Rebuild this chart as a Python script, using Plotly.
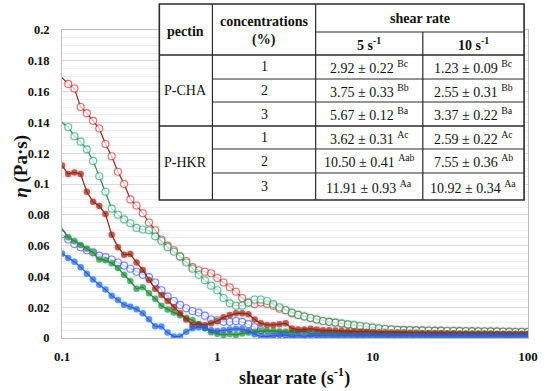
import plotly.graph_objects as go

# ---------------- data ----------------
shear_rate = [0.1, 0.1096, 0.1202, 0.1318, 0.1445, 0.1585, 0.1738, 0.1905, 0.2089, 0.2291,
              0.2512, 0.2754, 0.3020, 0.3311, 0.3631, 0.3981, 0.4365, 0.4786, 0.5248, 0.5754,
              0.6310, 0.6918, 0.7586, 0.8318, 0.9120, 1.0, 1.096, 1.202, 1.318, 1.445,
              1.585, 1.738, 1.905, 2.089, 2.291, 2.512, 2.754, 3.020, 3.311, 3.631,
              3.981, 4.365, 4.786, 5.248, 5.754, 6.310, 6.918, 7.586, 8.318, 9.120,
              10.0, 10.96, 12.02, 13.18, 14.45, 15.85, 17.38, 19.05, 20.89, 22.91,
              25.12, 27.54, 30.20, 33.11, 36.31, 39.81, 43.65, 47.86, 52.48, 57.54,
              63.10, 69.18, 75.86, 83.18, 91.20, 100.0]

brown_open = [0.169, 0.165, 0.162, 0.150, 0.146, 0.141, 0.136, 0.126, 0.118, 0.108,
              0.100, 0.090, 0.086, 0.081, 0.075, 0.070, 0.064, 0.060, 0.057, 0.053,
              0.050, 0.046, 0.044, 0.043, 0.042, 0.039, 0.036, 0.033, 0.030, 0.026,
              0.023, 0.022, 0.023, 0.022, 0.021, 0.019, 0.018, 0.016, 0.015, 0.014,
              0.013, 0.012, 0.011, 0.0105, 0.010, 0.0092, 0.0086, 0.0080, 0.0075, 0.0070,
              0.0066, 0.0062, 0.0058, 0.0056, 0.0054, 0.0053, 0.0052, 0.0051, 0.0050, 0.0049,
              0.0048, 0.0048, 0.0047, 0.0046, 0.0046, 0.0045, 0.0045, 0.0044, 0.0044, 0.0043,
              0.0043, 0.0042, 0.0042, 0.0041, 0.0041, 0.0040]

green_open = [0.140, 0.137, 0.131, 0.1275, 0.1225, 0.115, 0.105, 0.095, 0.084, 0.080,
              0.077, 0.0745, 0.0715, 0.0705, 0.070, 0.066, 0.063, 0.059, 0.056, 0.053,
              0.049, 0.045, 0.041, 0.0375, 0.034, 0.031, 0.026, 0.0225, 0.021, 0.021,
              0.023, 0.025, 0.025, 0.024, 0.022, 0.020, 0.018, 0.0165, 0.015, 0.014,
              0.013, 0.012, 0.011, 0.0105, 0.010, 0.0095, 0.009, 0.0085, 0.008, 0.0075,
              0.0068, 0.0063, 0.0058, 0.0055, 0.0053, 0.0051, 0.0050, 0.0049, 0.0048, 0.0047,
              0.0046, 0.0046, 0.0045, 0.0045, 0.0044, 0.0044, 0.0043, 0.0043, 0.0042, 0.0042,
              0.0041, 0.0041, 0.0040, 0.0040, 0.0039, 0.0039]

brown_filled = [0.112, 0.1065, 0.1075, 0.1065, 0.095, 0.0885, 0.0857, 0.0805, 0.067, 0.059,
                0.054, 0.0545, 0.049, 0.0442, 0.0377, 0.032, 0.028, 0.024, 0.020, 0.016,
                0.012, 0.0085, 0.009, 0.0085, 0.0095, 0.011, 0.0135, 0.015, 0.016, 0.016,
                0.0155, 0.012, 0.0095, 0.0085, 0.0085, 0.009, 0.0095, 0.0062, 0.0055, 0.0055,
                0.006, 0.0055, 0.005, 0.005, 0.0048, 0.0045, 0.0043, 0.0042, 0.0041, 0.0040,
                0.0039, 0.0038, 0.0037, 0.0036, 0.0035, 0.0035, 0.0034, 0.0034, 0.0033, 0.0033,
                0.0032, 0.0032, 0.0031, 0.0031, 0.0030, 0.0030, 0.0030, 0.0029, 0.0029, 0.0029,
                0.0028, 0.0028, 0.0028, 0.0028, 0.0027, 0.0027]

blue_open = [0.0673, 0.064, 0.061, 0.059, 0.057, 0.0556, 0.0535, 0.0525, 0.051, 0.049,
             0.047, 0.045, 0.043, 0.041, 0.0395, 0.036, 0.031, 0.027, 0.024, 0.0215,
             0.0193, 0.0175, 0.0165, 0.0145, 0.012, 0.0115, 0.0105, 0.0105, 0.011, 0.0105,
             0.009, 0.007, 0.005, 0.003, 0.0028, 0.003, 0.0025, 0.0022, 0.002, 0.0025,
             0.003, 0.0025, 0.0022, 0.0021, 0.0021, 0.0020, 0.0020, 0.0020, 0.0020, 0.0019,
             0.0019, 0.0019, 0.0019, 0.0019, 0.0019, 0.0019, 0.0018, 0.0018, 0.0018, 0.0018,
             0.0018, 0.0018, 0.0018, 0.0018, 0.0018, 0.0018, 0.0018, 0.0018, 0.0018, 0.0018,
             0.0018, 0.0018, 0.0018, 0.0018, 0.0018, 0.0018]

green_filled = [0.071, 0.0654, 0.063, 0.0604, 0.058, 0.0555, 0.051, 0.0505, 0.0485, 0.0455,
                0.041, 0.037, 0.032, 0.033, 0.029, 0.0255, 0.021, 0.0185, 0.0165, 0.0148,
                0.013, 0.0115, 0.009, 0.0063, 0.0038, 0.0027, 0.002, 0.0026, 0.002, 0.003,
                0.0035, 0.004, 0.0045, 0.0045, 0.0045, 0.0042, 0.004, 0.0035, 0.004, 0.0045,
                0.003, 0.003, 0.0029, 0.0029, 0.0028, 0.0028, 0.0027, 0.0027, 0.0026, 0.0026,
                0.0025, 0.0025, 0.0025, 0.0024, 0.0024, 0.0024, 0.0024, 0.0023, 0.0023, 0.0023,
                0.0023, 0.0023, 0.0022, 0.0022, 0.0022, 0.0022, 0.0022, 0.0022, 0.0022, 0.0022,
                0.0022, 0.0022, 0.0022, 0.0022, 0.0022, 0.0022]

blue_filled = [0.0548, 0.052, 0.0495, 0.046, 0.0418, 0.038, 0.0345, 0.0315, 0.0275, 0.0247,
               0.0216, 0.0203, 0.0186, 0.016, 0.0121, 0.0076, 0.0074, 0.0035, 0.0009, 0.001,
               0.0041, 0.0063, 0.007, 0.0065, 0.005, 0.0045, 0.005, 0.0055, 0.006, 0.0058,
               0.0045, 0.0025, 0.001, 0.001, 0.0015, 0.002, 0.0018, 0.001, 0.0015, 0.0012,
               0.0015, 0.0015, 0.0015, 0.0015, 0.0015, 0.0015, 0.0015, 0.0015, 0.0015, 0.0015,
               0.0015, 0.0015, 0.0015, 0.0015, 0.0015, 0.0015, 0.0015, 0.0015, 0.0015, 0.0015,
               0.0015, 0.0015, 0.0015, 0.0015, 0.0015, 0.0015, 0.0015, 0.0015, 0.0015, 0.0015,
               0.0015, 0.0015, 0.0015, 0.0015, 0.0015, 0.0015]

# table content
table_pectin = ["P-CHA", "P-HKR"]
table_conc = ["1", "2", "3", "1", "2", "3"]
rate5_mean = [2.92, 3.75, 5.67, 3.62, 10.50, 11.91]
rate5_sd = [0.22, 0.33, 0.12, 0.31, 0.41, 0.93]
rate5_sup = ["Bc", "Bb", "Ba", "Ac", "Aab", "Aa"]
rate10_mean = [1.23, 2.55, 3.37, 2.59, 7.55, 10.92]
rate10_sd = [0.09, 0.31, 0.22, 0.22, 0.36, 0.34]
rate10_sup = ["Bc", "Bb", "Ba", "Ac", "Ab", "Aa"]

# ---------------- layout helpers ----------------
W, H = 550, 391
L, R, T, B = 62, 14, 30, 53
PW, PH = W - L - R, H - T - B


def pxx(xp):
    return (xp - L) / PW


def pxy(yp):
    return (H - B - yp) / PH


FONT = "Liberation Serif, Times New Roman, serif"

fig = go.Figure()

series = [
    # name, data, line color, marker colour, filled?, glow, hide first marker
    ("brown_open", brown_open, "#8a2b1c", "#c04438", False, "rgba(255,175,215,0.30)", True),
    ("green_open", green_open, "#2f8a55", "#3aa36a", False, "rgba(150,245,235,0.30)", True),
    ("blue_open", blue_open, "#3559c9", "#3e63d8", False, "rgba(255,175,235,0.25)", False),
    ("green_filled", green_filled, "#2e7f34", "#2e8a38", True, "rgba(150,245,235,0.30)", True),
    ("brown_filled", brown_filled, "#8a2610", "#922a12", True, "rgba(255,175,215,0.30)", False),
    ("blue_filled", blue_filled, "#2d5bd0", "#2f5fd6", True, "rgba(150,245,245,0.30)", False),
]

# glow layer
for name, ys, lc, mc, filled, glow, hide0 in series:
    sizes = [11] * len(ys)
    if hide0:
        sizes[0] = 0
    fig.add_trace(go.Scatter(x=shear_rate, y=ys, mode="markers",
                             marker=dict(size=sizes, color=glow, line=dict(width=0)),
                             hoverinfo="skip", showlegend=False))

for name, ys, lc, mc, filled, glow, hide0 in series:
    base = 6.5 if filled else 7
    sizes = [base] * len(ys)
    if hide0:
        sizes[0] = 0
    fig.add_trace(go.Scatter(
        x=shear_rate, y=ys, mode="lines+markers", name=name,
        line=dict(color=lc, width=1.2),
        marker=dict(symbol="circle", size=sizes,
                    color=mc if filled else "white",
                    line=dict(color=mc, width=1.1 if not filled else 0)),
        showlegend=False))

fig.update_xaxes(type="log", range=[-1, 2], dtick=1,
                 showgrid=False, zeroline=False,
                 showline=True, linecolor="#bfbfbf", linewidth=1, mirror=True,
                 ticks="", tickfont=dict(family=FONT, size=13, color="#111", weight="bold"),
                 ticklabelstandoff=6)
fig.update_yaxes(range=[0, 0.2], dtick=0.02,
                 showgrid=True, gridcolor="#d9d9d9", gridwidth=1,
                 minor=dict(dtick=0.005, showgrid=True, gridcolor="#eeeeee", gridwidth=1),
                 zeroline=False, showline=True, linecolor="#bfbfbf", linewidth=1, mirror=True,
                 ticks="", tickfont=dict(family=FONT, size=12.5, color="#111", weight="bold"),
                 ticklabelstandoff=9)

# ---------------- table ----------------
shapes = []
tl, tr, tt, tb = 161, 532, 4, 200
col1, col2, col3 = 215, 320, 429
hdr_mid, hdr_bot = 32, 55
row_lines = [79, 102, 126, 149, 173]
line_c = "#2a2a2a"


def hline(y, x0, x1, w=1.2):
    shapes.append(dict(type="line", xref="paper", yref="paper",
                       x0=pxx(x0), x1=pxx(x1), y0=pxy(y), y1=pxy(y),
                       line=dict(color=line_c, width=w), layer="above"))


def vline(x, y0, y1, w=1.2):
    shapes.append(dict(type="line", xref="paper", yref="paper",
                       x0=pxx(x), x1=pxx(x), y0=pxy(y0), y1=pxy(y1),
                       line=dict(color=line_c, width=w), layer="above"))


shapes.append(dict(type="rect", xref="paper", yref="paper",
                   x0=pxx(tl), x1=pxx(tr), y0=pxy(tb), y1=pxy(tt),
                   fillcolor="white", line=dict(color=line_c, width=1.6), layer="above"))
vline(col1, tt, tb)
vline(col2, tt, tb)
vline(col3, hdr_mid, tb)
hline(hdr_mid, col2, tr)
hline(hdr_bot, tl, tr, 1.5)
for k, y in enumerate(row_lines):
    if k == 2:
        hline(y, tl, tr, 1.4)
    else:
        hline(y, col1, tr)

ann = []


def text(cx, cy, s, size=13.5, bold=False):
    ann.append(dict(xref="paper", yref="paper", x=pxx(cx), y=pxy(cy),
                    text=("<b>%s</b>" % s) if bold else s, showarrow=False,
                    xanchor="center", yanchor="middle",
                    font=dict(family=FONT, size=size, color="#111")))


text((tl + col1) / 2, 31, "pectin", 14, True)
text((col1 + col2) / 2, 22, "concentrations", 14, True)
text((col1 + col2) / 2, 40, "(%)", 14, True)
text((col2 + tr) / 2, 18, "shear rate", 14, True)
text((col2 + col3) / 2, 44, "5 s<sup>-1</sup>", 14, True)
text((col3 + tr) / 2, 44, "10 s<sup>-1</sup>", 14, True)

row_edges = [hdr_bot] + row_lines + [tb]
text((tl + col1) / 2, (row_edges[0] + row_edges[3]) / 2, table_pectin[0], 14)
text((tl + col1) / 2, (row_edges[3] + row_edges[6]) / 2, table_pectin[1], 14)
for r in range(6):
    cy = (row_edges[r] + row_edges[r + 1]) / 2
    text((col1 + col2) / 2, cy, table_conc[r], 14)
    text((col2 + col3) / 2, cy,
         "%.2f ± %.2f <sup>%s</sup>" % (rate5_mean[r], rate5_sd[r], rate5_sup[r]), 14)
    text((col3 + tr) / 2, cy,
         "%.2f ± %.2f <sup>%s</sup>" % (rate10_mean[r], rate10_sd[r], rate10_sup[r]), 14)

# axis titles
ann.append(dict(xref="paper", yref="paper", x=pxx(20), y=pxy(166),
                text="<b><i>η</i> (Pa·s)</b>", textangle=-90, showarrow=False,
                xanchor="center", yanchor="middle",
                font=dict(family=FONT, size=19, color="#111")))
ann.append(dict(xref="paper", yref="paper", x=pxx(298), y=pxy(377),
                text="<b>shear rate (s<sup>-1</sup>)</b>", showarrow=False,
                xanchor="center", yanchor="middle",
                font=dict(family=FONT, size=18, color="#111")))

fig.update_layout(width=W, height=H, margin=dict(l=L, r=R, t=T, b=B),
                  paper_bgcolor="white", plot_bgcolor="white", hovermode=False,
                  shapes=shapes, annotations=ann, showlegend=False)

fig.write_html("out.html", config={"displayModeBar": False, "staticPlot": True},
               post_script="document.body.style.margin='0';document.body.style.overflow='hidden';")
